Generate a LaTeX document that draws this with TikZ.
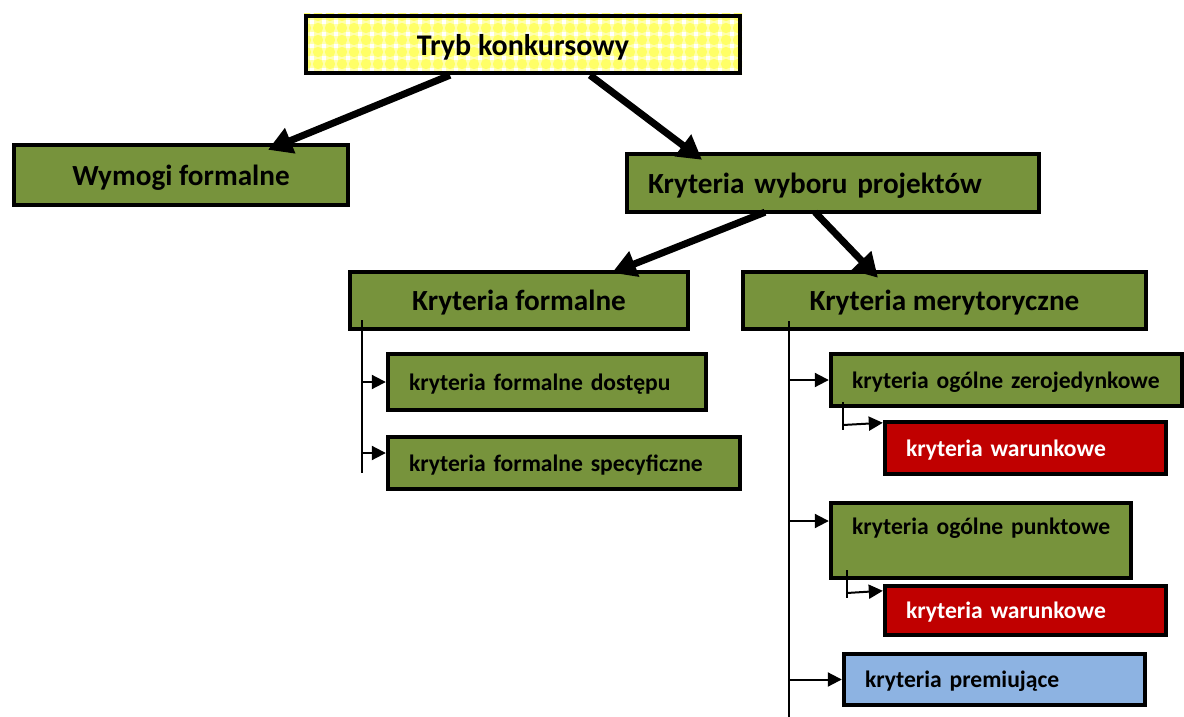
\documentclass[tikz,border=0pt]{standalone}
\usepackage{fontspec}
\setmainfont{Carlito}
\usetikzlibrary{arrows.meta,calc}
\definecolor{olivegreen}{HTML}{77933C}
\definecolor{darkred}{HTML}{C00000}
\definecolor{lightblue}{HTML}{8DB3E2}
\definecolor{paleyellow}{HTML}{FFFFB0}
\definecolor{bubble}{HTML}{FFFF66}
\begin{document}
\begin{tikzpicture}[x=0.5pt,y=-0.5pt,
  bigfont/.style={font=\fontsize{14.6}{17}\selectfont\bfseries},
  smallfont/.style={font=\fontsize{11.8}{14}\selectfont\bfseries},
  cbox/.style={draw=black, line width=2.2pt, inner sep=0pt, text depth=0pt, bigfont},
  gbox/.style={cbox, fill=olivegreen},
  lbox/.style={draw=black, line width=2.2pt, inner ysep=0pt, inner xsep=10.5pt, text depth=0pt, align=left},
  bigarrow/.style={line width=3.5pt, -{Triangle[length=12pt,width=13pt]}},
  thinline/.style={line width=1pt},
  thinarrow/.style={line width=1pt, -{Triangle[length=7pt,width=7pt]}},
]
\useasboundingbox (0,0) rectangle (1184,717);
\fill[white] (0,0) rectangle (1184,717);

% patterned background of the top box
\begin{scope}
  \clip (304,14) rectangle (742,75);
  \fill[paleyellow] (304,14) rectangle (742,75);
  \foreach \i in {0,...,37} {
    \foreach \j in {0,...,5} {
      \fill[bubble] (306+12*\i, 16+12*\j) circle (2.6pt);
      \fill[white] (310+12*\i, 20+12*\j) rectangle ++(4,4);
    }
  }
\end{scope}

\node[cbox, font=\fontsize{15}{17}\selectfont\bfseries, minimum width=217pt, minimum height=28.5pt] (tryb) at (523,44.5) {Tryb konkursowy};
\node[gbox, minimum width=167pt, minimum height=30pt] (wym) at (181,175) {Wymogi formalne};
\node[lbox, fill=olivegreen, bigfont, text width=185pt, minimum height=29pt] (wyb) at (833,183) {\mbox{Kryteria wyboru projektów}};
\node[gbox, minimum width=169pt, minimum height=28.5pt] (kform) at (519,300.5) {Kryteria formalne};
\node[gbox, minimum width=201.5pt, minimum height=28.5pt] (kmer) at (944.5,300.5) {Kryteria merytoryczne};

\node[lbox, fill=olivegreen, smallfont, text width=138pt, minimum height=28pt] (dost) at (547,382) {\mbox{kryteria formalne dostępu}};
\node[lbox, fill=olivegreen, smallfont, text width=155pt, minimum height=26pt] (spec) at (564,463) {\mbox{kryteria formalne specyficzne}};

\node[lbox, fill=olivegreen, smallfont, text width=154.5pt, minimum height=26pt] (zero) at (1006.5,380) {\mbox{kryteria ogólne zerojedynkowe}};
\node[lbox, fill=darkred, smallfont, text=white, text width=119.5pt, minimum height=26pt] (war1) at (1025.5,448) {\mbox{kryteria warunkowe}};
\node[lbox, fill=olivegreen, smallfont, text width=129pt, text depth=14pt, minimum height=37.5pt] (punkt) at (981,540.5) {\mbox{kryteria ogólne punktowe}};
\node[lbox, fill=darkred, smallfont, text=white, text width=119.5pt, minimum height=24.5pt] (war2) at (1025.5,610.5) {\mbox{kryteria warunkowe}};
\node[lbox, fill=lightblue, smallfont, text width=129.5pt, minimum height=25.5pt] (prem) at (994.5,679.5) {\mbox{kryteria premiujące}};

% thick arrows
\draw[bigarrow] ($(tryb.south)+(-73,0)$) -- ($(wym.north)+(87,7)$);
\draw[bigarrow] ($(tryb.south)+(67,0)$) -- ($(wyb.north)+(-131,8)$);
\draw[bigarrow] ($(wyb.south)+(-68,-2)$) -- ($(kform.north)+(93,3)$);
\draw[bigarrow] ($(wyb.south)+(-18,-2)$) -- ($(kmer.north)+(-66.5,8)$);

% formal criteria branch
\coordinate (fa) at (362,320);
\coordinate (fb) at (362,473);
\draw[thinline] (fa) -- (fb);
\draw[thinarrow] (fa |- dost.west) -- (dost.west);
\draw[thinarrow] (fa |- 0,453) -- ($(spec.west)+(0,-10)$);

% merit criteria branch
\coordinate (ma) at (789,321);
\coordinate (mb) at (789,717);
\draw[thinline] (ma) -- (mb);
\draw[thinarrow] (ma |- zero.west) -- (zero.west);
\draw[thinarrow] (ma |- 0,521) -- ($(punkt.west)+(0,-19.5)$);
\draw[thinarrow] (ma |- prem.west) -- (prem.west);

% conditional sub-branches
\coordinate (za) at (843,402);
\coordinate (zb) at (843,430);
\draw[thinline] (za) -- (zb);
\draw[thinarrow] (za |- 0,425) -- ($(war1.north west)+(0,3)$);
\coordinate (pa) at (847,570);
\coordinate (pb) at (847,598);
\draw[thinline] (pa) -- (pb);
\draw[thinarrow] (pa |- 0,593) -- ($(war2.north west)+(0,7)$);
\end{tikzpicture}
\end{document}
